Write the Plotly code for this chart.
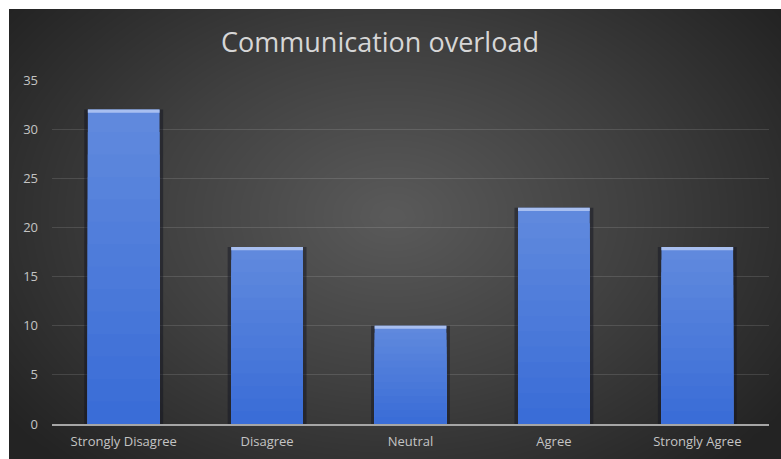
import numpy as np
import plotly.graph_objects as go

# Survey responses
categories = ["Strongly Disagree", "Disagree", "Neutral", "Agree", "Strongly Agree"]
counts = [32, 18, 10, 22, 18]
y_ticks = [0, 5, 10, 15, 20, 25, 30, 35]

W, H = 781, 459
# chart area in pixels
PL, PR, PT, PB = 52, 769, 80, 424
# dark panel in pixels
BL, BT = 9, 9


def lerp_hex(c1, c2, t):
    a = [int(c1[i:i + 2], 16) for i in (1, 3, 5)]
    b = [int(c2[i:i + 2], 16) for i in (1, 3, 5)]
    return "#" + "".join(f"{round(a[k] + (b[k] - a[k]) * t):02x}" for k in range(3))


fig = go.Figure()

# dark panel with a soft radial glow (background heatmap on its own axes)
gx = np.linspace(BL, W, 60)
gy = np.linspace(BT, H, 40)
cx, cy = 392, 215
XX, YY = np.meshgrid(gx, gy)
r = np.sqrt(((XX - cx) / 480) ** 2 + ((YY - cy) / 340) ** 2)
glow = np.clip(r, 0, 1)
fig.add_trace(go.Heatmap(x=gx, y=gy, z=glow, zmin=0, zmax=1, zsmooth="best",
                         colorscale=[[0, "#5a5a5a"], [0.5, "#404040"], [1, "#232323"]],
                         showscale=False, hoverinfo="skip", xaxis="x", yaxis="y"))

# soft shadow around each bar
fig.add_trace(go.Bar(x=categories, y=counts, width=0.55, xaxis="x2", yaxis="y2",
                     marker=dict(color="rgba(15,18,30,0.45)", line=dict(width=0)),
                     hoverinfo="skip"))

# vertical gradient built from overlaid bars of decreasing height
n = 14
top_col, bot_col = "#6089dd", "#3a6dd7"
for k in range(n):
    frac = 1 - k / n
    fig.add_trace(go.Bar(x=categories, y=[v * frac for v in counts], width=0.5,
                         xaxis="x2", yaxis="y2",
                         marker=dict(color=lerp_hex(top_col, bot_col, k / (n - 1)),
                                     line=dict(width=0)),
                         hoverinfo="skip"))

# bright bevel along the top edge of each bar
cap = 0.32
fig.add_trace(go.Bar(x=categories, y=[cap] * len(counts), base=[v - cap for v in counts],
                     width=0.5, xaxis="x2", yaxis="y2",
                     marker=dict(color="#a8bff0", line=dict(width=0)),
                     hoverinfo="skip"))

tick_font = dict(family="Open Sans", size=13, color="#c4c4c4")

fig.update_layout(
    width=W, height=H,
    margin=dict(l=0, r=0, t=0, b=0),
    paper_bgcolor="white",
    plot_bgcolor="rgba(0,0,0,0)",
    barmode="overlay",
    showlegend=False,
    title=dict(text="Communication overload", x=380 / W, xanchor="center",
               y=1 - 43 / H, yanchor="middle",
               font=dict(family="Open Sans", size=27, color="#d6d6d6")),
    xaxis=dict(domain=[BL / W, 1], range=[BL, W], visible=False, fixedrange=True,
               automargin=False),
    yaxis=dict(domain=[0, 1 - BT / H], range=[H, BT], visible=False, fixedrange=True,
               automargin=False),
    xaxis2=dict(domain=[PL / W, PR / W], anchor="y2", showgrid=False, showline=True,
                linecolor="#a6a6a6", linewidth=1.5, ticks="", tickfont=tick_font,
                ticklabelstandoff=5, automargin=False),
    yaxis2=dict(domain=[(H - PB) / H, (H - PT) / H], anchor="x2", range=[0, 35],
                tickvals=y_ticks, showgrid=True,
                gridcolor="rgba(255,255,255,0.12)", gridwidth=1,
                zeroline=False, showline=False, ticks="", tickfont=tick_font,
                ticklabelstandoff=13, automargin=False),
)

fig.write_html("out.html")
